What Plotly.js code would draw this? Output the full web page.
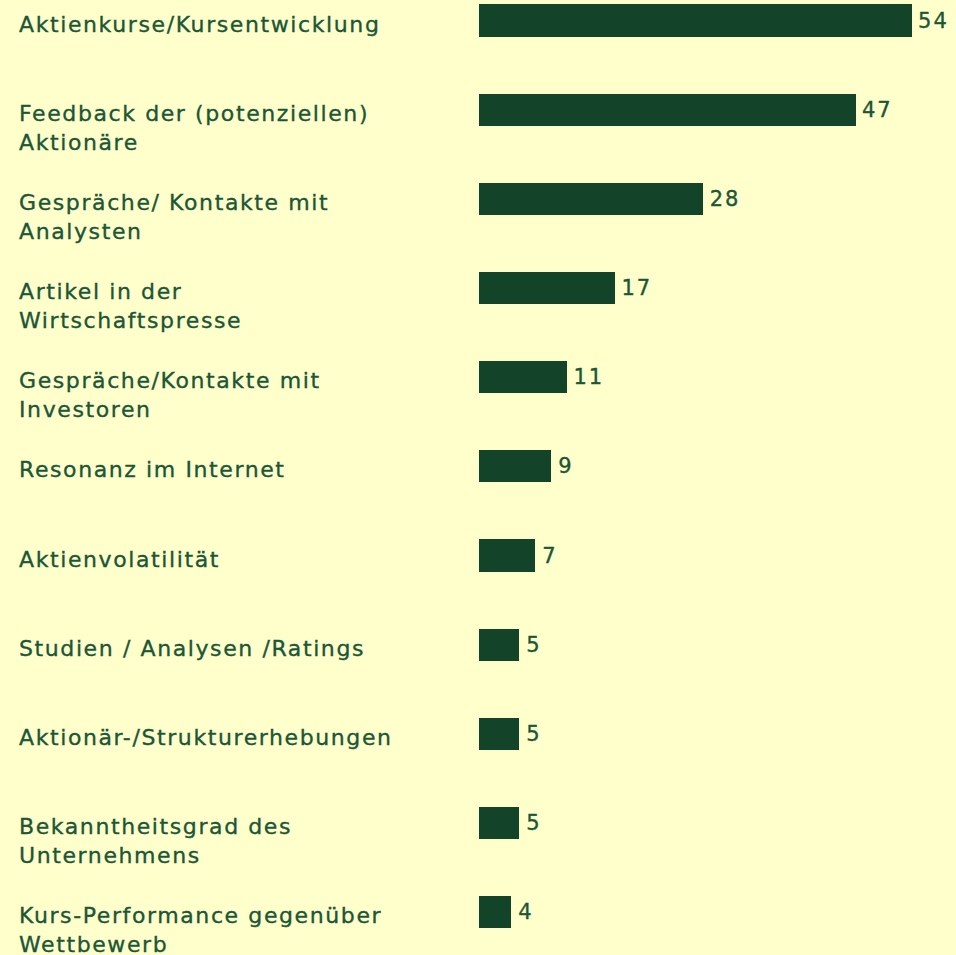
<!DOCTYPE html>
<html>
<head>
<meta charset="utf-8">
<script src="https://cdn.plot.ly/plotly-3.0.1.min.js"></script>
<style>
html,body{margin:0;padding:0;background:#FFFFCC;}
#chart .annotation-text{letter-spacing:1.6px;stroke:#1b5636;stroke-width:0.35px;}
#chart .bartext{letter-spacing:2px;stroke:#1b5636;stroke-width:0.35px;}
</style>
</head>
<body>
<div id="chart" style="width:956px;height:955px;"></div>
<script>
const categories = [
  "Aktienkurse/Kursentwicklung",
  "Feedback der (potenziellen) Aktionäre",
  "Gespräche/ Kontakte mit Analysten",
  "Artikel in der Wirtschaftspresse",
  "Gespräche/Kontakte mit Investoren",
  "Resonanz im Internet",
  "Aktienvolatilität",
  "Studien / Analysen /Ratings",
  "Aktionär-/Strukturerhebungen",
  "Bekanntheitsgrad des Unternehmens",
  "Kurs-Performance gegenüber Wettbewerb"
];
const labelLines = [
  "Aktienkurse/Kursentwicklung",
  "Feedback der (potenziellen)<br>Aktionäre",
  "Gespräche/ Kontakte mit<br>Analysten",
  "Artikel in der<br>Wirtschaftspresse",
  "Gespräche/Kontakte mit<br>Investoren",
  "Resonanz im Internet",
  "Aktienvolatilität",
  "Studien / Analysen /Ratings",
  "Aktionär-/Strukturerhebungen",
  "Bekanntheitsgrad des<br>Unternehmens",
  "Kurs-Performance gegenüber<br>Wettbewerb"
];
const values = [54, 47, 28, 17, 11, 9, 7, 5, 5, 5, 4];

const FONT = "DejaVu Sans, sans-serif";
const TEXTCOL = "#1b5636";
const BARCOL = "#134429";

const trace = {
  type: "bar",
  orientation: "h",
  y: categories,
  x: values,
  width: 0.36,
  marker: {color: BARCOL},
  text: values.map(v => "\u2009" + v),
  textposition: "outside",
  cliponaxis: false,
  textfont: {family: FONT, size: 21, color: TEXTCOL},
  hoverinfo: "skip"
};

const leftMargin = 479;
const plotW = 956 - leftMargin;
const annotations = categories.map((c, i) => ({
  xref: "paper", yref: "y",
  x: -(leftMargin - 17) / plotW,
  y: c,
  xanchor: "left", yanchor: "top",
  align: "left",
  yshift: 11,
  showarrow: false,
  text: labelLines[i],
  font: {family: FONT, size: 22, color: TEXTCOL}
}));

const layout = {
  width: 956, height: 955,
  margin: {l: leftMargin, r: 0, t: 0, b: 0, pad: 0},
  paper_bgcolor: "#FFFFCC",
  plot_bgcolor: "#FFFFCC",
  showlegend: false,
  bargap: 0,
  xaxis: {range: [0, 59.5], visible: false, fixedrange: true},
  yaxis: {type: "category", range: [10.48, -0.23], autorange: false,
          showticklabels: false, showgrid: false, zeroline: false, showline: false, ticks: ""},
  annotations: annotations
};

Plotly.newPlot("chart", [trace], layout, {displayModeBar: false, staticPlot: true});
</script>
</body>
</html>
